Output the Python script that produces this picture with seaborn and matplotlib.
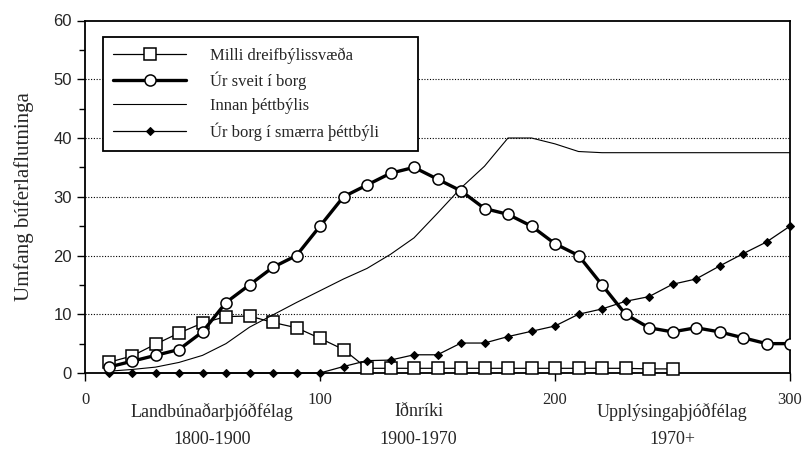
import pandas as pd
import seaborn as sns
import matplotlib.pyplot as plt
from matplotlib.ticker import MultipleLocator

x = list(range(10, 310, 10))

milli_dreifbyli = [1.8, 2.9, 4.9, 6.8, 8.5, 9.6, 9.7, 8.6, 7.7, 5.9,
                   4.0, 0.8, 0.8, 0.8, 0.8, 0.8, 0.8, 0.8, 0.8, 0.8,
                   0.8, 0.8, 0.8, 0.7, 0.7]
sveit_borg = [1, 2, 3, 4, 7, 12, 15, 18, 20, 25,
              30, 32, 34, 35, 33, 31, 28, 27, 25, 22,
              20, 15, 10, 7.7, 7, 7.7, 7, 6, 5, 5]
innan_thettbylis = [0.3, 0.6, 1.0, 1.8, 3.0, 5.0, 7.8, 9.9, 12, 14,
                    16, 17.8, 20.2, 23, 27.2, 31.5, 35.2, 40, 40, 39,
                    37.7, 37.5, 37.5, 37.5, 37.5, 37.5, 37.5, 37.5, 37.5, 37.5]
borg_smaerra = [0, 0, 0, 0, 0, 0, 0, 0, 0, 0,
                1.1, 2.1, 2.2, 3.1, 3.1, 5.1, 5.1, 6.2, 7.1, 8,
                10, 10.9, 12.2, 13, 15.1, 16, 18.2, 20.3, 22.3, 25]

series_names = ["Milli dreifbýlissvæða", "Úr sveit í borg",
                "Innan þéttbýlis", "Úr borg í smærra þéttbýli"]
eras = ["Landbúnaðarþjóðfélag", "Iðnríki", "Upplýsingaþjóðfélag"]
era_years = ["1800-1900", "1900-1970", "1970+"]
era_pos = [54, 142, 250]

sns.set_style("ticks")
plt.rcParams["font.family"] = ["Liberation Serif", "DejaVu Serif"]

fig = plt.figure(figsize=(8.05, 4.5), dpi=100)
ax = fig.add_axes([85 / 805, 1 - 373 / 450, 705 / 805, 352.5 / 450])

df1 = pd.DataFrame({"x": x[:25], "y": milli_dreifbyli})
df2 = pd.DataFrame({"x": x, "y": sveit_borg})
df3 = pd.DataFrame({"x": x, "y": innan_thettbylis})
df4 = pd.DataFrame({"x": x, "y": borg_smaerra})

sns.lineplot(data=df1, x="x", y="y", ax=ax, color="black", linewidth=0.9,
             marker="s", markersize=9, markerfacecolor="white",
             markeredgecolor="black", markeredgewidth=1.1,
             label=series_names[0], zorder=3, clip_on=False)
sns.lineplot(data=df2, x="x", y="y", ax=ax, color="black", linewidth=2.4,
             marker="o", markersize=8, markerfacecolor="white",
             markeredgecolor="black", markeredgewidth=1.1,
             label=series_names[1], zorder=4)
sns.lineplot(data=df3, x="x", y="y", ax=ax, color="black", linewidth=0.8,
             label=series_names[2], zorder=3)
sns.lineplot(data=df4, x="x", y="y", ax=ax, color="black", linewidth=0.9,
             marker="D", markersize=4.5, markerfacecolor="black",
             markeredgecolor="black",
             label=series_names[3], zorder=3, clip_on=False)

ax.set_xlim(0, 300)
ax.set_ylim(0, 60)
ax.xaxis.set_major_locator(MultipleLocator(100))
ax.yaxis.set_major_locator(MultipleLocator(10))
ax.yaxis.set_minor_locator(MultipleLocator(5))
ax.tick_params(axis="both", which="major", direction="out", length=6,
               width=1, color="black", labelsize=12)
ax.tick_params(axis="y", which="minor", direction="out", length=4,
               width=1, color="black")
ax.tick_params(axis="x", pad=8)
for lbl in ax.get_yticklabels():
    lbl.set_fontfamily("Liberation Sans")
    lbl.set_fontsize(12)

for v in [10, 20, 30, 40, 50]:
    ax.axhline(v, color="black", linestyle=(0, (1, 1.5)), linewidth=0.8,
               zorder=1)

for s in ax.spines.values():
    s.set_visible(True)
    s.set_color("black")
    s.set_linewidth(1.3)

ax.set_xlabel("")
ax.set_ylabel("Umfang búferlaflutninga", fontsize=15, labelpad=14)

trans = ax.get_xaxis_transform()
for pos, name, yrs in zip(era_pos, eras, era_years):
    ax.text(pos, -0.11, name, transform=trans, ha="center", va="center",
            fontsize=13)
    ax.text(pos, -0.19, yrs, transform=trans, ha="center", va="center",
            fontsize=13)

leg = ax.legend(loc="upper left", bbox_to_anchor=(0.0255, 0.953, 0.447, 0),
                mode="expand", borderaxespad=0, fontsize=12,
                handlelength=4.4, handletextpad=1.4, labelspacing=0.48,
                borderpad=0.6, fancybox=False, framealpha=1,
                edgecolor="black")
leg.get_frame().set_linewidth(1.3)
leg.set_zorder(10)

fig.savefig("out.png", dpi=100)
